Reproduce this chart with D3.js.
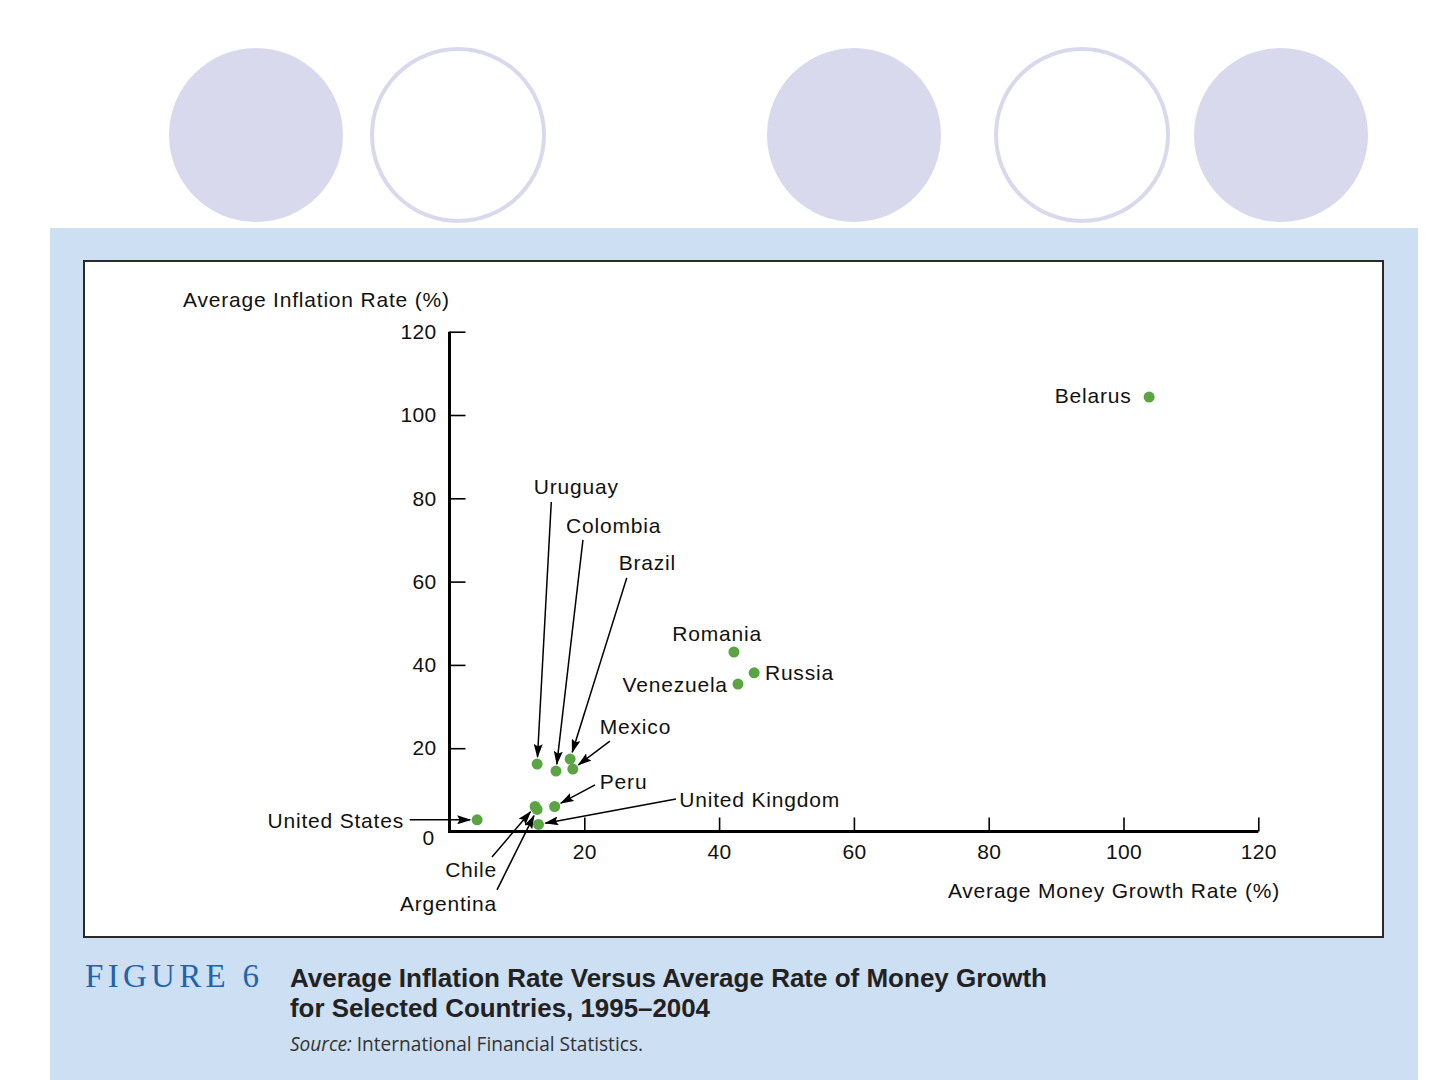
<!DOCTYPE html>
<html lang="en">
<head>
<meta charset="utf-8">
<title>Figure 6 - Inflation vs Money Growth</title>
<script src="https://cdn.jsdelivr.net/npm/d3@7"></script>
<style>
  body { margin: 0; background: #ffffff; }
  svg { display: block; }
</style>
</head>
<body>
<script>

//****************************************************************************//
// Data

var countries = ["Belarus", "Romania", "Russia", "Venezuela", "Uruguay", "Colombia",
                 "Brazil", "Mexico", "Peru", "Chile", "Argentina", "United Kingdom", "United States"];
var moneyGrowth = [103.8, 42.2, 45.2, 42.8, 13.0, 15.8, 17.9, 18.3, 15.6, 12.7, 13.0, 13.2, 4.1];
var inflation   = [104.3, 43.1, 38.1, 35.4, 16.2, 14.5, 17.4, 15.0, 6.0, 6.0, 5.3, 1.7, 2.8];

var xTicks = [20, 40, 60, 80, 100, 120];
var yTicks = [0, 20, 40, 60, 80, 100, 120];

// label anchors (data units), text-anchor, and arrow tails (data units, null = no arrow)
var labelX   = [101.2, 39.7, 46.8, 41.3, 12.5, 17.3, 25.1, 22.3, 22.3, 7.05, 7.05, 34.1, -6.75];
var labelY   = [102.9, 45.7, 36.4, 33.5, 81.0, 71.7, 62.8, 23.4, 10.2, -10.9, -19.1, 5.9, 0.8];
var labelAnchor = ["end", "middle", "start", "end", "start", "start", "start", "start", "start", "end", "end", "start", "end"];
var arrowX   = [null, null, null, null, 15.1, 19.8, 26.3, 23.8, 21.6, 6.3, 7.05, 33.6, -5.9];
var arrowY   = [null, null, null, null, 79.1, 70.0, 60.9, 21.7, 11.2, -6.1, -14.0, 7.8, 2.8];

//****************************************************************************//
// Canvas

var width = 1440, height = 1080;
var labelFont = "'Liberation Sans', Arial, Helvetica, sans-serif";

var svg = d3.select("body").append("svg")
    .attr("width", width)
    .attr("height", height);

svg.append("rect").attr("width", width).attr("height", height).attr("fill", "#ffffff");

// decorative circles on top
var circles = [
  {cx: 256,  filled: true},
  {cx: 458,  filled: false},
  {cx: 854,  filled: true},
  {cx: 1082, filled: false},
  {cx: 1281, filled: true}
];
svg.selectAll("circle.deco").data(circles).enter().append("circle")
    .attr("class", "deco")
    .attr("cx", d => d.cx)
    .attr("cy", 135)
    .attr("r", d => d.filled ? 87 : 86)
    .attr("fill", d => d.filled ? "#d9d9ed" : "none")
    .attr("stroke", d => d.filled ? "none" : "#d9d9ed")
    .attr("stroke-width", 4);

// light blue panel
svg.append("rect")
    .attr("x", 50).attr("y", 228)
    .attr("width", 1368).attr("height", 852)
    .attr("fill", "#cddff3");

// white chart box
svg.append("rect")
    .attr("x", 84).attr("y", 261)
    .attr("width", 1299).attr("height", 676)
    .attr("fill", "#ffffff")
    .attr("stroke", "#2a2a2a")
    .attr("stroke-width", 2);

//****************************************************************************//
// Scales & axes

var x = d3.scaleLinear().domain([0, 120]).range([449.5, 1258.3]);
var y = d3.scaleLinear().domain([0, 120]).range([831.5, 331.7]);

var xAxis = svg.append("g")
    .attr("transform", "translate(0," + y(0) + ")")
    .call(d3.axisBottom(x).tickValues(xTicks).tickSize(-14).tickPadding(13));

var yAxis = svg.append("g")
    .attr("transform", "translate(" + x(0) + ",0)")
    .call(d3.axisLeft(y).tickValues(yTicks).tickSize(-16).tickPadding(13));

[xAxis, yAxis].forEach(function(g){
    g.select(".domain").attr("stroke", "#000").attr("stroke-width", 3);
    g.selectAll(".tick line").attr("stroke", "#000").attr("stroke-width", 1.6);
    g.selectAll(".tick text")
        .style("font-family", labelFont)
        .style("font-size", "21px")
        .style("letter-spacing", "0.3px")
        .attr("fill", "#111");
});
// redraw the domains as plain lines
xAxis.select(".domain").attr("d", "M" + (x(0) - 1.5) + ",0H" + x(120));
yAxis.select(".domain").attr("d", "M0," + y(120) + "V" + (y(0) + 1.5));

// zero label sits a bit lower, no tick line at 0
yAxis.selectAll(".tick").filter(d => d === 0).select("line").remove();
yAxis.selectAll(".tick").filter(d => d === 0).select("text").attr("dy", "0.6em").attr("x", -15);

// axis titles
function label(sel){
    return sel.style("font-family", labelFont)
        .style("font-size", "21px")
        .style("letter-spacing", "0.8px")
        .attr("fill", "#111");
}

svg.append("text")
    .attr("x", 183).attr("y", 307)
    .call(label)
    .text("Average Inflation Rate (%)");

svg.append("text")
    .attr("x", 1280).attr("y", 898)
    .attr("text-anchor", "end")
    .call(label)
    .text("Average Money Growth Rate (%)");

//****************************************************************************//
// Arrows & points

var defs = svg.append("defs");
defs.append("marker")
    .attr("id", "arrowhead")
    .attr("viewBox", "0 0 14 9")
    .attr("refX", 13).attr("refY", 4.5)
    .attr("markerWidth", 14).attr("markerHeight", 9)
    .attr("markerUnits", "userSpaceOnUse")
    .attr("orient", "auto")
    .append("path")
    .attr("d", "M0,0 L14,4.5 L0,9 L2.5,4.5 Z")
    .attr("fill", "#000");

var idx = d3.range(countries.length);

svg.append("g").selectAll("line")
    .data(idx.filter(i => arrowX[i] !== null))
    .enter().append("line")
    .each(function(i){
        var x1 = x(arrowX[i]), y1 = y(arrowY[i]);
        var px = x(moneyGrowth[i]), py = y(inflation[i]);
        var dx = px - x1, dy = py - y1, len = Math.sqrt(dx*dx + dy*dy);
        var gap = 7;
        d3.select(this)
            .attr("x1", x1).attr("y1", y1)
            .attr("x2", px - dx/len*gap).attr("y2", py - dy/len*gap);
    })
    .attr("stroke", "#000")
    .attr("stroke-width", 1.5)
    .attr("marker-end", "url(#arrowhead)");

svg.append("g").selectAll("circle")
    .data(idx)
    .enter().append("circle")
    .attr("cx", i => x(moneyGrowth[i]))
    .attr("cy", i => y(inflation[i]))
    .attr("r", 5.5)
    .attr("fill", "#5aa443");

svg.append("g").selectAll("text")
    .data(idx)
    .enter().append("text")
    .attr("x", i => x(labelX[i]))
    .attr("y", i => y(labelY[i]))
    .attr("text-anchor", i => labelAnchor[i])
    .call(label)
    .text(i => countries[i]);

//****************************************************************************//
// Caption

svg.append("text")
    .attr("x", 85).attr("y", 987)
    .style("font-family", "'Liberation Serif', 'DejaVu Serif', serif")
    .style("font-size", "33px")
    .style("letter-spacing", "4.3px")
    .attr("fill", "#1f64ad")
    .text("FIGURE 6");

var titleFont = "'Liberation Sans', Arial, sans-serif";

svg.append("text")
    .attr("x", 290).attr("y", 987)
    .style("font-family", titleFont)
    .style("font-weight", "bold")
    .style("font-size", "26px")
    .attr("textLength", 757)
    .attr("lengthAdjust", "spacingAndGlyphs")
    .attr("fill", "#222")
    .text("Average Inflation Rate Versus Average Rate of Money Growth");

svg.append("text")
    .attr("x", 290).attr("y", 1017)
    .style("font-family", titleFont)
    .style("font-weight", "bold")
    .style("font-size", "26px")
    .attr("textLength", 420)
    .attr("lengthAdjust", "spacingAndGlyphs")
    .attr("fill", "#222")
    .text("for Selected Countries, 1995–2004");

var src = svg.append("text")
    .attr("x", 290).attr("y", 1051)
    .style("font-family", "'Open Sans', sans-serif")
    .style("font-size", "20px")
    .attr("textLength", 353)
    .attr("lengthAdjust", "spacingAndGlyphs")
    .attr("fill", "#333");
src.append("tspan").style("font-style", "italic").text("Source:");
src.append("tspan").text(" International Financial Statistics.");

</script>
</body>
</html>
